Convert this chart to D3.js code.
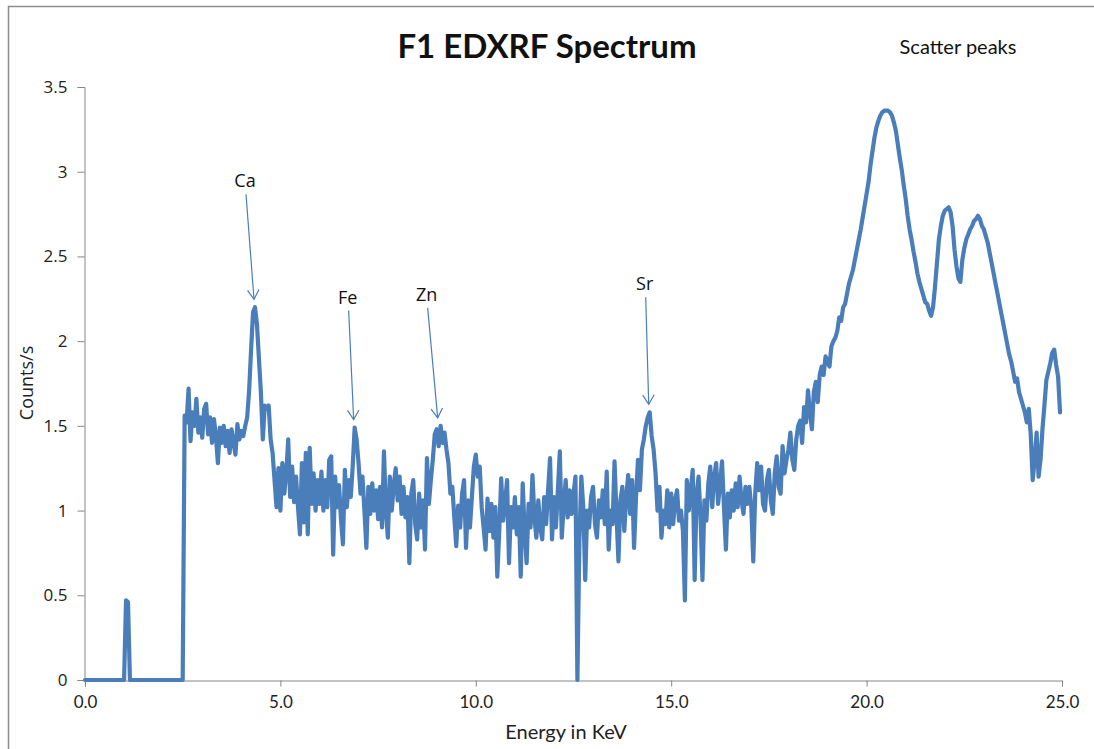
<!DOCTYPE html>
<html>
<head>
<meta charset="utf-8">
<script src="https://cdn.jsdelivr.net/npm/d3@7"></script>
<style>
  html, body { margin: 0; padding: 0; background: #ffffff; }
  svg { display: block; }
</style>
</head>
<body>
<svg id="chart" width="1094" height="749"></svg>
<script>
// EDXRF spectrum of sample F1, one reading every 0.05 keV starting at 0 keV
const CHANNEL_KEV = 0.05;

const counts = [
  // 0.00 - 0.95 keV
  0, 0, 0, 0, 0, 0, 0, 0, 0, 0, 0, 0, 0, 0, 0, 0, 0, 0, 0, 0,
  // 1.00 - 1.95 keV
  0, 0.47, 0.46, 0, 0, 0, 0, 0, 0, 0, 0, 0, 0, 0, 0, 0, 0, 0, 0, 0,
  // 2.00 - 2.95 keV
  0, 0, 0, 0, 0, 0, 0, 0, 0, 0, 0, 1.56, 1.52, 1.72, 1.41, 1.58, 1.50, 1.66, 1.46, 1.55,
  // 3.00 - 3.95 keV
  1.43, 1.60, 1.63, 1.45, 1.55, 1.40, 1.54, 1.44, 1.28, 1.49, 1.40, 1.50, 1.38, 1.47, 1.34, 1.48, 1.40, 1.33, 1.51, 1.42,
  // 4.00 - 4.95 keV (Ca K lines)
  1.47, 1.44, 1.50, 1.55, 1.71, 1.95, 2.17, 2.20, 2.10, 1.90, 1.70, 1.42, 1.62, 1.60, 1.62, 1.42, 1.34, 1.18, 1.02, 1.25,
  // 5.00 - 5.95 keV
  1.00, 1.28, 1.10, 1.22, 1.42, 1.08, 1.26, 1.05, 1.20, 1.02, 0.86, 1.28, 0.93, 1.34, 0.86, 1.37, 1.04, 1.22, 1.00, 1.18,
  // 6.00 - 6.95 keV (Fe K alpha)
  1.04, 1.23, 1.00, 1.18, 1.02, 1.30, 1.32, 0.74, 1.20, 1.02, 1.15, 0.95, 0.80, 1.24, 1.02, 1.18, 1.08, 1.26, 1.49, 1.42,
  // 7.00 - 7.95 keV
  1.28, 1.10, 1.20, 1.00, 0.78, 1.14, 0.98, 1.16, 1.00, 1.12, 0.95, 1.14, 0.90, 1.35, 1.00, 0.84, 1.20, 1.00, 1.15, 1.25,
  // 8.00 - 8.95 keV
  1.06, 1.20, 0.98, 1.14, 0.96, 1.08, 0.69, 1.10, 1.18, 0.92, 0.83, 1.10, 0.90, 1.06, 0.77, 1.31, 1.04, 1.18, 1.30, 1.45,
  // 9.00 - 9.95 keV (Zn K alpha)
  1.48, 1.38, 1.50, 1.40, 1.46, 1.36, 1.28, 1.10, 1.14, 0.96, 0.79, 1.03, 0.90, 1.10, 1.18, 0.78, 1.06, 0.90, 1.08, 1.26,
  // 10.00 - 10.95 keV
  1.33, 1.20, 1.26, 1.02, 0.90, 0.77, 1.07, 0.88, 1.04, 0.84, 1.02, 0.61, 0.88, 1.19, 0.94, 1.05, 1.18, 0.69, 1.02, 0.90,
  // 11.00 - 11.95 keV
  1.08, 0.86, 1.02, 0.61, 1.16, 0.88, 0.69, 1.04, 0.90, 1.21, 0.96, 0.84, 1.06, 0.90, 0.83, 1.08, 0.92, 1.12, 1.31, 0.83,
  // 12.00 - 12.95 keV
  1.08, 0.90, 1.12, 1.35, 0.84, 1.04, 1.18, 0.96, 1.12, 0.98, 1.10, 1.20, 0.00, 0.82, 1.20, 1.02, 0.59, 1.00, 0.90, 1.08,
  // 13.00 - 13.95 keV
  1.14, 0.92, 0.84, 1.06, 0.96, 1.12, 0.92, 1.23, 0.77, 1.00, 0.92, 1.29, 0.98, 0.70, 1.06, 1.14, 0.88, 1.08, 1.21, 0.98,
  // 14.00 - 14.95 keV (Sr K alpha)
  1.18, 0.78, 1.08, 1.30, 1.12, 1.36, 1.42, 1.50, 1.55, 1.58, 1.44, 1.36, 1.22, 1.00, 1.14, 0.84, 1.00, 0.92, 1.12, 0.90,
  // 15.00 - 15.95 keV
  1.10, 0.92, 1.06, 1.12, 0.94, 1.00, 0.88, 0.47, 1.18, 1.00, 1.12, 1.24, 0.59, 1.10, 1.20, 0.96, 0.59, 1.06, 0.94, 1.16,
  // 16.00 - 16.95 keV
  1.26, 1.02, 1.20, 1.28, 1.04, 1.16, 1.29, 1.02, 0.77, 1.10, 0.96, 1.12, 1.00, 1.16, 1.02, 1.20, 1.06, 0.98, 1.14, 1.04,
  // 17.00 - 17.95 keV
  1.14, 1.02, 0.70, 1.10, 1.28, 1.12, 1.26, 1.04, 1.00, 1.18, 1.24, 1.06, 0.98, 1.22, 1.32, 1.14, 1.10, 1.38, 1.22, 1.30,
  // 18.00 - 18.95 keV
  1.36, 1.46, 1.30, 1.24, 1.42, 1.50, 1.53, 1.40, 1.61, 1.52, 1.71, 1.58, 1.48, 1.70, 1.76, 1.64, 1.80, 1.85, 1.80, 1.91,
  // 19.00 - 19.95 keV
  1.88, 1.85, 1.97, 2.00, 2.02, 2.06, 2.14, 2.12, 2.20, 2.22, 2.28, 2.34, 2.38, 2.42, 2.48, 2.54, 2.60, 2.66, 2.73, 2.80,
  // 20.00 - 20.95 keV (scatter)
  2.87, 2.94, 3.04, 3.12, 3.20, 3.26, 3.30, 3.33, 3.35, 3.36, 3.36, 3.36, 3.35, 3.33, 3.29, 3.24, 3.16, 3.08, 3.01, 2.92,
  // 21.00 - 21.95 keV
  2.84, 2.74, 2.66, 2.60, 2.53, 2.47, 2.40, 2.35, 2.31, 2.27, 2.23, 2.22, 2.18, 2.15, 2.20, 2.32, 2.46, 2.60, 2.68, 2.74,
  // 22.00 - 22.95 keV
  2.77, 2.78, 2.79, 2.76, 2.68, 2.54, 2.44, 2.37, 2.35, 2.48, 2.55, 2.60, 2.63, 2.66, 2.68, 2.71, 2.72, 2.74, 2.72, 2.68,
  // 23.00 - 23.95 keV
  2.66, 2.62, 2.58, 2.52, 2.46, 2.40, 2.34, 2.28, 2.22, 2.16, 2.10, 2.04, 1.98, 1.92, 1.88, 1.82, 1.76, 1.78, 1.70, 1.66,
  // 24.00 - 24.95 keV
  1.62, 1.58, 1.52, 1.60, 1.45, 1.18, 1.30, 1.46, 1.20, 1.30, 1.48, 1.62, 1.77, 1.82, 1.87, 1.93, 1.95, 1.86, 1.79, 1.58
];

// Tick labels
const xTicks = [0, 5, 10, 15, 20, 25];
const xTickLabels = ["0.0", "5.0", "10.0", "15.0", "20.0", "25.0"];
const yTicks = [0, 0.5, 1, 1.5, 2, 2.5, 3, 3.5];
const yTickLabels = ["0", "0.5", "1", "1.5", "2", "2.5", "3", "3.5"];

// Element lines marked on the spectrum
const peakLabels = ["Ca", "Fe", "Zn", "Sr"];
const peakEnergies = [4.35, 6.90, 9.05, 14.45];
const peakCounts = [2.20, 1.49, 1.50, 1.58];

const title = "F1 EDXRF Spectrum";
const note = "Scatter peaks";
const xTitle = "Energy in KeV";
const yTitle = "Counts/s";

const LINE_COLOR = "#4a7ebb";
const AXIS_COLOR = "#868686";
const SANS = "'Open Sans', 'Noto Sans', sans-serif";
const CAL = "Lato, 'Open Sans', sans-serif";

const svg = d3.select("#chart");

// chart frame
svg.append("rect")
  .attr("x", 8.5).attr("y", 6.5)
  .attr("width", 1110).attr("height", 800)
  .attr("fill", "#ffffff")
  .attr("stroke", "#8c8c8c").attr("stroke-width", 1.5);

const x = d3.scaleLinear().domain([0, 25]).range([85, 1062]);
const y = d3.scaleLinear().domain([0, 3.5]).range([680, 87]);

// y axis
const yAxis = svg.append("g")
  .attr("transform", "translate(84.5,0)")
  .call(d3.axisLeft(y)
    .tickValues(yTicks)
    .tickFormat((d, i) => yTickLabels[i])
    .tickSize(7)
    .tickPadding(10));
yAxis.select(".domain").attr("stroke", AXIS_COLOR);
yAxis.selectAll(".tick line").attr("stroke", AXIS_COLOR);
yAxis.selectAll(".tick text")
  .attr("fill", "#222").style("font-family", SANS).style("font-size", "17px");

// x axis
const xAxis = svg.append("g")
  .attr("transform", "translate(0,680.5)")
  .call(d3.axisBottom(x)
    .tickValues(xTicks)
    .tickFormat((d, i) => xTickLabels[i])
    .tickSize(6)
    .tickPadding(9));
xAxis.select(".domain").attr("stroke", AXIS_COLOR);
xAxis.selectAll(".tick line").attr("stroke", AXIS_COLOR);
xAxis.selectAll(".tick text")
  .attr("fill", "#222").style("font-family", CAL).style("font-size", "17px");

// spectrum trace
const line = d3.line()
  .x((d, i) => x(i * CHANNEL_KEV))
  .y(d => y(d));

svg.append("path")
  .datum(counts)
  .attr("d", line)
  .attr("fill", "none")
  .attr("stroke", LINE_COLOR)
  .attr("stroke-width", 4.2)
  .attr("stroke-linejoin", "round")
  .attr("stroke-linecap", "round");

// element annotations: label above, thin arrow pointing to the peak
const labelShift = { Ca: -9, Fe: -6, Zn: -11, Sr: -4 };
const labelRise = { Ca: 119, Fe: 123, Zn: 124, Sr: 121 };
peakLabels.forEach((lab, i) => {
  const tipX = x(peakEnergies[i]) - 1;
  const tipY = y(peakCounts[i]) - 8;
  const tx = tipX + labelShift[lab];
  const ty = tipY - labelRise[lab];
  svg.append("text")
    .attr("x", tx).attr("y", ty)
    .attr("text-anchor", "middle")
    .attr("dominant-baseline", "central")
    .attr("fill", "#111")
    .style("font-family", SANS).style("font-size", "18px")
    .text(lab);
  const sx = tx + 1, sy = ty + 14;
  svg.append("line")
    .attr("x1", sx).attr("y1", sy).attr("x2", tipX).attr("y2", tipY)
    .attr("stroke", LINE_COLOR).attr("stroke-width", 1.2);
  const ang = Math.atan2(tipY - sy, tipX - sx);
  const len = 11, spread = 0.55;
  const p1 = [tipX - len * Math.cos(ang - spread), tipY - len * Math.sin(ang - spread)];
  const p2 = [tipX - len * Math.cos(ang + spread), tipY - len * Math.sin(ang + spread)];
  svg.append("path")
    .attr("d", `M${p1[0]},${p1[1]}L${tipX},${tipY}L${p2[0]},${p2[1]}`)
    .attr("fill", "none")
    .attr("stroke", LINE_COLOR).attr("stroke-width", 1.2);
});

// titles
svg.append("text")
  .attr("x", 547).attr("y", 58)
  .attr("text-anchor", "middle")
  .attr("fill", "#111")
  .style("font-family", CAL).style("font-weight", "bold").style("font-size", "33px")
  .text(title);

svg.append("text")
  .attr("x", 958).attr("y", 54)
  .attr("text-anchor", "middle")
  .attr("fill", "#111")
  .style("font-family", CAL).style("font-size", "20px")
  .text(note);

svg.append("text")
  .attr("x", 566).attr("y", 739)
  .attr("text-anchor", "middle")
  .attr("fill", "#222")
  .style("font-family", CAL).style("font-size", "20px")
  .text(xTitle);

svg.append("text")
  .attr("transform", "translate(33,383) rotate(-90)")
  .attr("text-anchor", "middle")
  .attr("fill", "#222")
  .style("font-family", SANS).style("font-size", "18px")
  .text(yTitle);
</script>
</body>
</html>
